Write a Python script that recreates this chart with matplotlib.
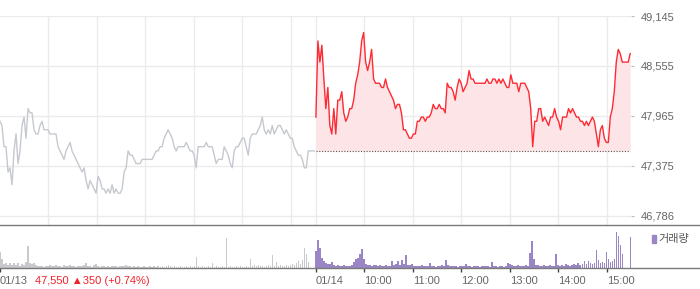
import numpy as np
import matplotlib
matplotlib.use("Agg")
import matplotlib.pyplot as plt
from matplotlib.lines import Line2D
from matplotlib.patches import Rectangle

# session layout in minutes (09:00 = 0 for 01/13, 391 for 01/14)
day1_start = 0
day2_start = 391
session_len = 389
prev_close = 47550

# 01/13 intraday price (grey)
price_0113 = [
    47900, 47850, 47600, 47600, 47300, 47350, 47150, 47550, 47750, 47400,
    47550, 47850, 47950, 47700, 48050, 48000, 48000, 47800, 47750, 47750,
    47850, 47900, 47800, 47800, 47800, 47750, 47750, 47750, 47750, 47600,
    47550, 47500, 47450, 47550, 47600, 47650, 47550, 47500, 47450, 47400,
    47350, 47300, 47350, 47200, 47100, 47200, 47150, 47100, 47050, 47250,
    47200, 47100, 47100, 47050, 47100, 47050, 47150, 47050, 47100, 47050,
    47050, 47100, 47300, 47350, 47550, 47500, 47500, 47450, 47400, 47400,
    47400, 47450, 47450, 47450, 47450, 47450, 47450, 47500, 47550, 47550,
    47600, 47600, 47700, 47750, 47800, 47750, 47700, 47600, 47550, 47600,
    47600, 47600, 47600, 47650, 47600, 47550, 47550, 47500, 47350, 47600,
    47600, 47600, 47600, 47650, 47600, 47600, 47600, 47500, 47400, 47450,
    47450, 47450, 47600, 47550, 47500, 47400, 47350, 47550, 47600, 47600,
    47650, 47700, 47700, 47600, 47500, 47700, 47750, 47750, 47750, 47800,
    47850, 47950, 47800, 47750, 47800, 47750, 47850, 47750, 47800, 47850,
    47850, 47800, 47750, 47800, 47750, 47700, 47700, 47600, 47550, 47500,
    47500, 47450, 47350, 47350, 47550, 47550, 47550, 47550,
]

# 01/14 intraday price (red)
price_0114 = [
    47950, 48850, 48600, 48800, 48400, 48050, 48300, 47850, 47750, 48050,
    47750, 48150, 48150, 48250, 48000, 47900, 47950, 48050, 48050, 48150,
    48350, 48450, 48600, 48850, 48950, 48600, 48500, 48600, 48750, 48400,
    48350, 48350, 48350, 48300, 48300, 48400, 48300, 48250, 48200, 48150,
    48050, 48100, 48100, 48000, 47800, 47800, 47750, 47700, 47700, 47750,
    47750, 47900, 47900, 47950, 47950, 47900, 47950, 47950, 48000, 48100,
    48050, 48050, 48100, 48050, 48050, 48000, 48350, 48300, 48300, 48250,
    48150, 48300, 48400, 48350, 48250, 48300, 48350, 48500, 48400, 48400,
    48350, 48350, 48350, 48350, 48350, 48350, 48400, 48350, 48350, 48400,
    48400, 48350, 48400, 48350, 48400, 48350, 48300, 48300, 48450, 48350,
    48350, 48350, 48250, 48350, 48350, 48350, 48300, 48250, 48050, 47600,
    47900, 47900, 48050, 48050, 47900, 47950, 47900, 47850, 47950, 47950,
    48050, 47950, 47900, 47800, 47950, 47950, 47950, 48050, 48000, 48050,
    48000, 47950, 47950, 47900, 47900, 47850, 47900, 47850, 47900, 47950,
    47900, 47750, 47600, 47800, 47850, 47700, 47650, 47650, 47950, 48050,
    48250, 48600, 48750, 48700, 48600, 48600, 48600, 48600, 48700,
]

# volume (thousand shares)
vol_0113 = [
    16, 9, 4, 5, 3, 5, 3, 5, 3, 5, 2, 4, 3, 6, 22, 5, 4, 5, 3, 2,
    2, 2, 1, 2, 2, 3, 2, 2, 3, 2, 2, 1, 3, 2, 2, 3, 2, 2, 1, 2,
    2, 2, 3, 5, 2, 2, 1, 3, 4, 2, 1, 2, 2, 1, 2, 1, 2, 2, 2, 1,
    2, 2, 2, 3, 2, 2, 1, 2, 1, 2, 1, 1, 2, 1, 1, 2, 1, 2, 1, 2,
    1, 2, 1, 2, 3, 2, 1, 2, 1, 1, 2, 1, 1, 2, 1, 2, 1, 2, 11, 2,
    1, 2, 1, 1, 2, 1, 5, 1, 2, 1, 1, 2, 1, 30, 1, 2, 1, 1, 2, 1,
    2, 1, 1, 2, 1, 9, 2, 3, 2, 3, 2, 2, 1, 2, 3, 2, 13, 2, 6, 2,
    3, 2, 2, 3, 2, 3, 4, 3, 5, 7, 4, 8, 20, 14, 6, 0, 0, 0,
]
vol_0114 = [
    17, 28, 20, 10, 7, 5, 4, 4, 6, 3, 2, 3, 2, 2, 3, 2, 2, 2, 3, 6,
    9, 10, 14, 19, 9, 4, 3, 3, 2, 3, 3, 2, 3, 2, 2, 3, 2, 2, 7, 3,
    4, 7, 3, 8, 4, 13, 3, 3, 4, 2, 2, 2, 2, 3, 2, 2, 2, 5, 2, 2,
    1, 2, 2, 3, 2, 8, 3, 2, 2, 2, 2, 1, 2, 2, 2, 4, 2, 2, 1, 2,
    2, 2, 1, 2, 2, 2, 2, 1, 6, 2, 2, 1, 2, 2, 1, 2, 5, 4, 3, 2,
    2, 3, 2, 2, 2, 3, 2, 15, 27, 9, 3, 3, 2, 2, 3, 2, 2, 3, 2, 2,
    14, 3, 2, 3, 2, 4, 3, 2, 3, 4, 3, 5, 3, 4, 7, 4, 7, 5, 4, 5,
    18, 8, 5, 6, 5, 16, 9, 6, 7, 9, 36, 32, 23, 14, 0, 0, 0, 31,
]

y_ticks = [46786, 47375, 47965, 48555, 49145]
x_tick_pos = [0, 391, 451, 511, 571, 631, 691, 751]
x_tick_labels = ['01/13', '01/14', '10:00', '11:00', '12:00', '13:00', '14:00', '15:00']
change_text = '47,550 \u25b2350 (+0.74%)'

t1 = day1_start + np.linspace(0, session_len, len(price_0113))
t2 = day2_start + np.linspace(0, session_len, len(price_0114))
tv1 = day1_start + np.linspace(0, session_len, len(vol_0113))
tv2 = day2_start + np.linspace(0, session_len, len(vol_0114))

plt.rcParams['font.family'] = ['Liberation Sans', 'DejaVu Sans']

W, H = 700, 289
fig = plt.figure(figsize=(7, 2.89), dpi=100)

xmax = 781
ax = fig.add_axes([0, (H - 225) / H, 631 / W, (225 - 16) / H])
ax.set_xlim(0, xmax)
ax.set_ylim(46674, 49145)

# price lines
ax.plot(t1, price_0113, color='#c5c9cf', lw=1.0, zorder=3)
ax.fill_between(t2, price_0114, prev_close, color='#fde5e7', lw=0, zorder=2)
ax.plot(t2, price_0114, color='#ff2a33', lw=1.0, zorder=4)
ax.hlines(prev_close, t2[0], t2[-1], color='#555555', lw=0.8,
          linestyles=(0, (1, 1.5)), zorder=5)

# grid
hour_lines = [day1_start + 60 * k for k in range(1, 7)] + \
             [day2_start + 60 * k for k in range(0, 7)]
ax.set_xticks(hour_lines)
ax.set_yticks(y_ticks)
ax.set_yticklabels([f'{v:,}' for v in y_ticks])
ax.grid(True, color='#ebebeb', lw=1.0, zorder=0)
ax.yaxis.tick_right()
ax.tick_params(axis='x', length=0, labelbottom=False)
ax.tick_params(axis='y', length=2, color='#bbbbbb', pad=5,
               labelsize=8, labelcolor='#666666')
for s in ax.spines.values():
    s.set_visible(False)

# volume panel
vax = fig.add_axes([0, (H - 268) / H, 631 / W, (268 - 226) / H])
vax.set_xlim(0, xmax)
vax.set_ylim(0, 42)
vax.bar(tv1, vol_0113, width=1.6, color='#c8c9cd', lw=0)
vax.bar(tv2, vol_0114, width=1.6, color='#9a86c4', lw=0)
vax.set_yticks([])
vax.set_xticks(x_tick_pos)
vax.set_xticklabels(x_tick_labels)
vax.tick_params(axis='x', length=3, width=1, color='#444444', pad=3,
                labelsize=8, labelcolor='#666666')
for lbl in vax.get_xticklabels():
    lbl.set_ha('left')
for s in vax.spines.values():
    s.set_visible(False)

# full-width separator lines
for yy in (225, 268):
    fig.add_artist(Line2D([0, 1], [(H - yy) / H] * 2, color='#7a7a7a', lw=1.0))

# legend
fig.add_artist(Rectangle((652 / W, (H - 243) / H), 4 / W, 8 / H,
                         color='#9a86c4', transform=fig.transFigure))
fig.text(658 / W, (H - 239) / H, '거래량', fontsize=8, color='#555555',
         va='center', ha='left', family=['Noto Sans CJK KR', 'DejaVu Sans'])

# last close info
fig.text(35 / W, (H - 281) / H, change_text, fontsize=8, color='#f0222b',
         va='center', ha='left')

fig.savefig('out.png', dpi=100)
